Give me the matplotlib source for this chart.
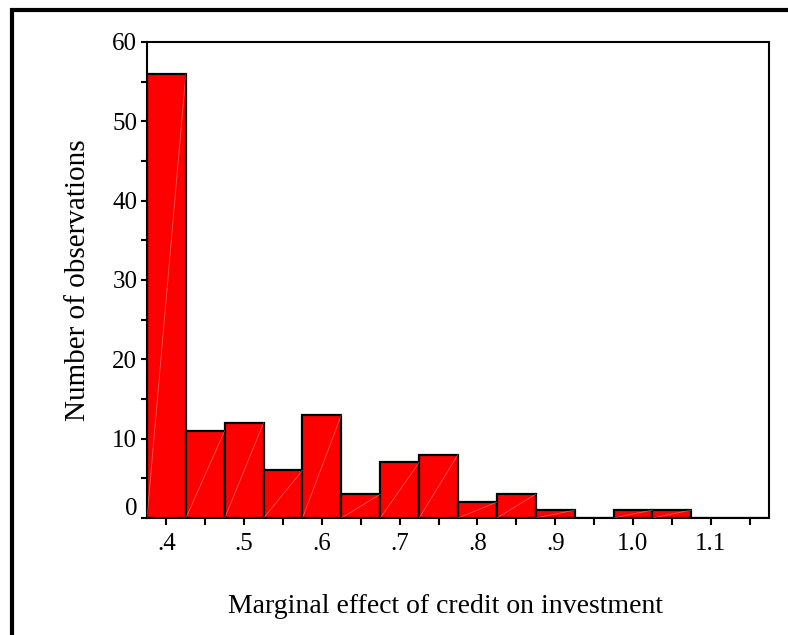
import matplotlib
matplotlib.use("Agg")
import matplotlib.pyplot as plt
import matplotlib.patches as patches
import matplotlib.transforms as mtransforms
import numpy as np

plt.rcParams['font.family'] = ['Liberation Serif', 'DejaVu Serif']

# histogram data: bin centres (width .05) and counts
bin_centers = [0.40, 0.45, 0.50, 0.55, 0.60, 0.65, 0.70, 0.75,
               0.80, 0.85, 0.90, 0.95, 1.00, 1.05, 1.10, 1.15]
counts = [56, 11, 12, 6, 13, 3, 7, 8, 2, 3, 1, 0, 1, 1, 0, 0]
bin_width = 0.05

xtick_vals = [0.4, 0.5, 0.6, 0.7, 0.8, 0.9, 1.0, 1.1]
xtick_labels = ['.4', '.5', '.6', '.7', '.8', '.9', '1.0', '1.1']
ytick_vals = [0, 10, 20, 30, 40, 50, 60]

fig = plt.figure(figsize=(7.88, 6.35), dpi=100)
ax = fig.add_axes([147 / 788, 1 - 518 / 635, (769 - 147) / 788, (518 - 42) / 635])

# outer frame (runs off the right and bottom edges)
frame = patches.Rectangle((12 / 788, -0.05), 1.1, 1 - 10 / 635 + 0.05,
                          transform=fig.transFigure, fill=False,
                          linewidth=3, edgecolor='black', zorder=0)
fig.add_artist(frame)

bars = ax.bar(bin_centers, counts, width=bin_width, color='#ff0000',
              edgecolor='black', linewidth=1.6, zorder=2)

# faint diagonal streaks seen inside the bars
for b in bars:
    h = b.get_height()
    if h > 0:
        x0 = b.get_x()
        ax.plot([x0, x0 + b.get_width()], [0, h], color='white',
                linewidth=0.6, alpha=0.35, zorder=3)

ax.set_xlim(0.375, 1.175)
ax.set_ylim(0, 60)

ax.set_xticks(xtick_vals)
ax.set_xticklabels(xtick_labels)
ax.set_xticks(np.array(bin_centers[1::2]), minor=True)
ax.set_yticks(ytick_vals)
ax.set_yticks([5, 15, 25, 35, 45, 55], minor=True)

ax.tick_params(axis='both', which='both', direction='out', labelsize=18,
               width=1.5, length=5)
ax.tick_params(axis='x', which='both', pad=6)
ax.tick_params(axis='y', which='both', pad=3, length=4)

# the zero label sits a little above its tick
fig.canvas.draw()
lab0 = ax.get_yticklabels()[0]
lab0.set_transform(lab0.get_transform() +
                   mtransforms.ScaledTranslation(0, 8 / 72, fig.dpi_scale_trans))

for sp in ax.spines.values():
    sp.set_linewidth(1.5)

ax.set_ylabel('Number of observations', fontsize=21, labelpad=15)
ax.set_xlabel('Marginal effect of credit on investment', fontsize=20, labelpad=28)
ax.xaxis.label.set_x(0.48)

fig.savefig('out.png', dpi=100)
